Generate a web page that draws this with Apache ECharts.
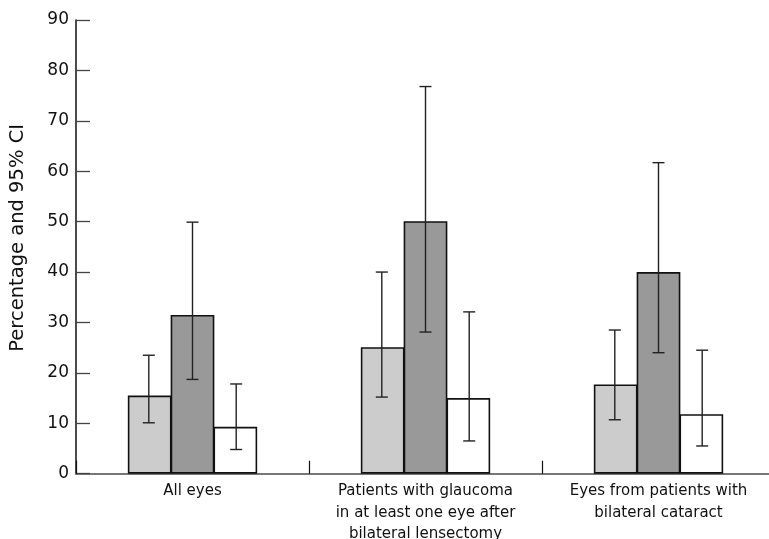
<!DOCTYPE html>
<html>
<head>
<meta charset="utf-8">
<script src="https://cdn.jsdelivr.net/npm/echarts@6/dist/echarts.min.js"></script>
<style>html,body{margin:0;padding:0;background:#fff}#c{width:769px;height:539px}</style>
</head>
<body>
<div id="c"></div>
<script>
var categories = ['All eyes', 'Patients with glaucoma\nin at least one eye after\nbilateral lensectomy', 'Eyes from patients with\nbilateral cataract'];
var yTicks = [0, 10, 20, 30, 40, 50, 60, 70, 80, 90];
var valuesA = [15.5, 25.1, 17.7];
var lowerA = [10.1, 15.2, 10.7];
var upperA = [23.5, 40.0, 28.5];
var valuesB = [31.5, 50.1, 40.0];
var lowerB = [18.7, 28.1, 24.0];
var upperB = [49.9, 76.8, 61.7];
var valuesC = [9.3, 15.0, 11.8];
var lowerC = [4.8, 6.5, 5.5];
var upperC = [17.8, 32.1, 24.5];

var BAR_W = 43.7;
var FONT = '"DejaVu Sans", sans-serif';

function errSeries(lower, upper, offset) {
  return {
    type: 'custom',
    z: 10,
    data: lower.map(function (l, i) { return [i, l, upper[i]]; }),
    renderItem: function (params, api) {
      var lo = api.coord([api.value(0), api.value(1)]);
      var hi = api.coord([api.value(0), api.value(2)]);
      var x = lo[0] + offset * BAR_W;
      var cap = 6;
      var st = { stroke: '#222', lineWidth: 1.4 };
      return {
        type: 'group',
        children: [
          { type: 'line', shape: { x1: x, y1: lo[1], x2: x, y2: hi[1] }, style: st },
          { type: 'line', shape: { x1: x - cap, y1: lo[1], x2: x + cap, y2: lo[1] }, style: st },
          { type: 'line', shape: { x1: x - cap, y1: hi[1], x2: x + cap, y2: hi[1] }, style: st }
        ]
      };
    }
  };
}

function barSeries(vals, color) {
  return {
    type: 'bar',
    data: vals,
    barWidth: BAR_W,
    barGap: '-2%',
    itemStyle: { color: color, borderColor: '#111', borderWidth: 1.6 },
    emphasis: { disabled: true }
  };
}

var chart = echarts.init(document.getElementById('c'));
chart.setOption({
  animation: false,
  backgroundColor: '#fff',
  grid: { left: 76, top: 20, width: 699, height: 453.7, containLabel: false, outerBoundsMode: 'none' },
  xAxis: {
    type: 'category',
    data: categories,
    axisLine: { lineStyle: { color: '#777', width: 2 } },
    axisTick: { show: true, inside: true, length: 13, lineStyle: { color: '#111', width: 1.2 } },
    axisLabel: { color: '#111', fontFamily: FONT, fontSize: 15, lineHeight: 21.5, margin: 7, interval: 0 }
  },
  yAxis: {
    type: 'value',
    min: yTicks[0],
    max: yTicks[yTicks.length - 1],
    interval: yTicks[1] - yTicks[0],
    name: 'Percentage and 95% CI',
    nameLocation: 'middle',
    nameGap: 48,
    nameRotate: 90,
    nameTextStyle: { color: '#111', fontFamily: FONT, fontSize: 19.5, padding: [0, 0, 0, 18] },
    axisLine: { show: true, lineStyle: { color: '#111', width: 1.5 } },
    axisTick: { show: true, inside: true, length: 14, lineStyle: { color: '#444', width: 1.3 } },
    axisLabel: { color: '#111', fontFamily: FONT, fontSize: 17, margin: 7 },
    splitLine: { show: false }
  },
  series: [
    barSeries(valuesA, '#cccccc'),
    barSeries(valuesB, '#999999'),
    barSeries(valuesC, '#ffffff'),
    errSeries(lowerA, upperA, -1),
    errSeries(lowerB, upperB, 0),
    errSeries(lowerC, upperC, 1)
  ]
});
</script>
</body>
</html>
